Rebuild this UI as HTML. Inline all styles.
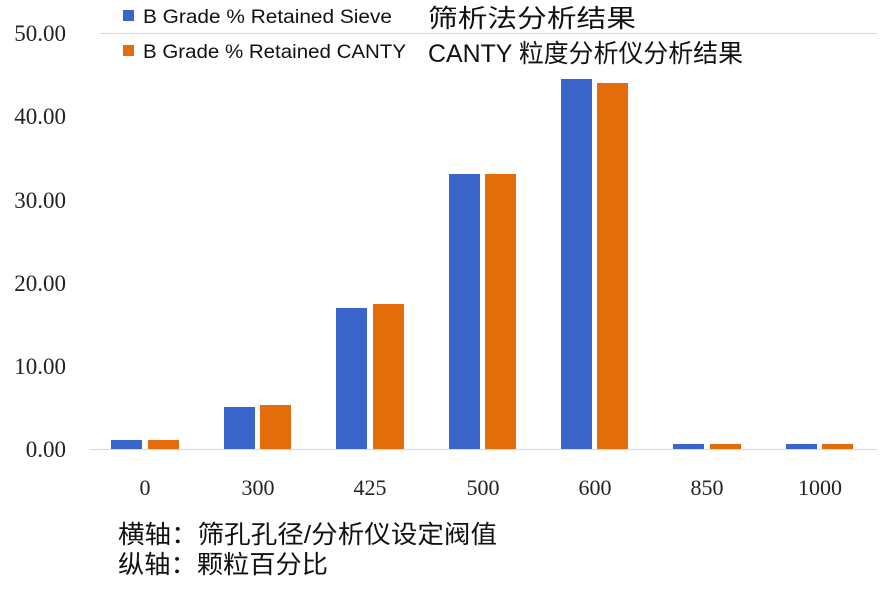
<!DOCTYPE html>
<html><head><meta charset="utf-8"><style>
html,body{margin:0;padding:0;background:#fff;}
</style></head><body>
<svg width="887" height="610" xmlns="http://www.w3.org/2000/svg" font-family="Liberation Sans, Noto Sans CJK SC, sans-serif">
<rect width="887" height="610" fill="#fff"/>
<line x1="100" y1="33.5" x2="877" y2="33.5" stroke="#d9d9d9" stroke-width="1"/>
<g font-family="Liberation Serif, serif" font-size="23" fill="#222" text-anchor="end">
<text x="66" y="41">50.00</text>
<text x="66" y="124">40.00</text>
<text x="66" y="208">30.00</text>
<text x="66" y="291">20.00</text>
<text x="66" y="374">10.00</text>
<text x="66" y="457">0.00</text>
</g>
<g fill="#3A66CC">
<rect x="111" y="440" width="31" height="9"/>
<rect x="224" y="407" width="31" height="42"/>
<rect x="336" y="308" width="31" height="141"/>
<rect x="449" y="174" width="31" height="275"/>
<rect x="561" y="79" width="31" height="370"/>
<rect x="673" y="444" width="31" height="5"/>
<rect x="786" y="444" width="31" height="5"/>
</g>
<g fill="#E46C0A">
<rect x="148" y="440" width="31" height="9"/>
<rect x="260" y="405" width="31" height="44"/>
<rect x="373" y="304" width="31" height="145"/>
<rect x="485" y="174" width="31" height="275"/>
<rect x="597" y="83" width="31" height="366"/>
<rect x="710" y="444" width="31" height="5"/>
<rect x="822" y="444" width="31" height="5"/>
</g>
<line x1="90" y1="449.5" x2="877" y2="449.5" stroke="#d9d9d9" stroke-width="1"/>
<g font-family="Liberation Serif, serif" font-size="22" fill="#222" text-anchor="middle">
<text x="145" y="495">0</text>
<text x="258" y="495">300</text>
<text x="370" y="495">425</text>
<text x="483" y="495">500</text>
<text x="595" y="495">600</text>
<text x="707" y="495">850</text>
<text x="820" y="495">1000</text>
</g>
<rect x="123" y="10" width="11" height="11" fill="#3A66CC"/>
<rect x="123" y="45" width="11" height="11" fill="#E46C0A"/>
<g font-size="19" fill="#111">
<text x="143" y="23" textLength="249" lengthAdjust="spacingAndGlyphs">B Grade % Retained Sieve</text>
<text x="143" y="58" textLength="263" lengthAdjust="spacingAndGlyphs">B Grade % Retained CANTY</text>
</g>
<g font-size="25" fill="#111">
<text x="428" y="27" textLength="208" lengthAdjust="spacingAndGlyphs">筛析法分析结果</text>
<text x="428" y="62" textLength="315" lengthAdjust="spacingAndGlyphs">CANTY 粒度分析仪分析结果</text>
<text x="118" y="543" textLength="379" lengthAdjust="spacingAndGlyphs">横轴：筛孔孔径/分析仪设定阀值</text>
<text x="118" y="573" textLength="210" lengthAdjust="spacingAndGlyphs">纵轴：颗粒百分比</text>
</g>
</svg>
</body></html>
